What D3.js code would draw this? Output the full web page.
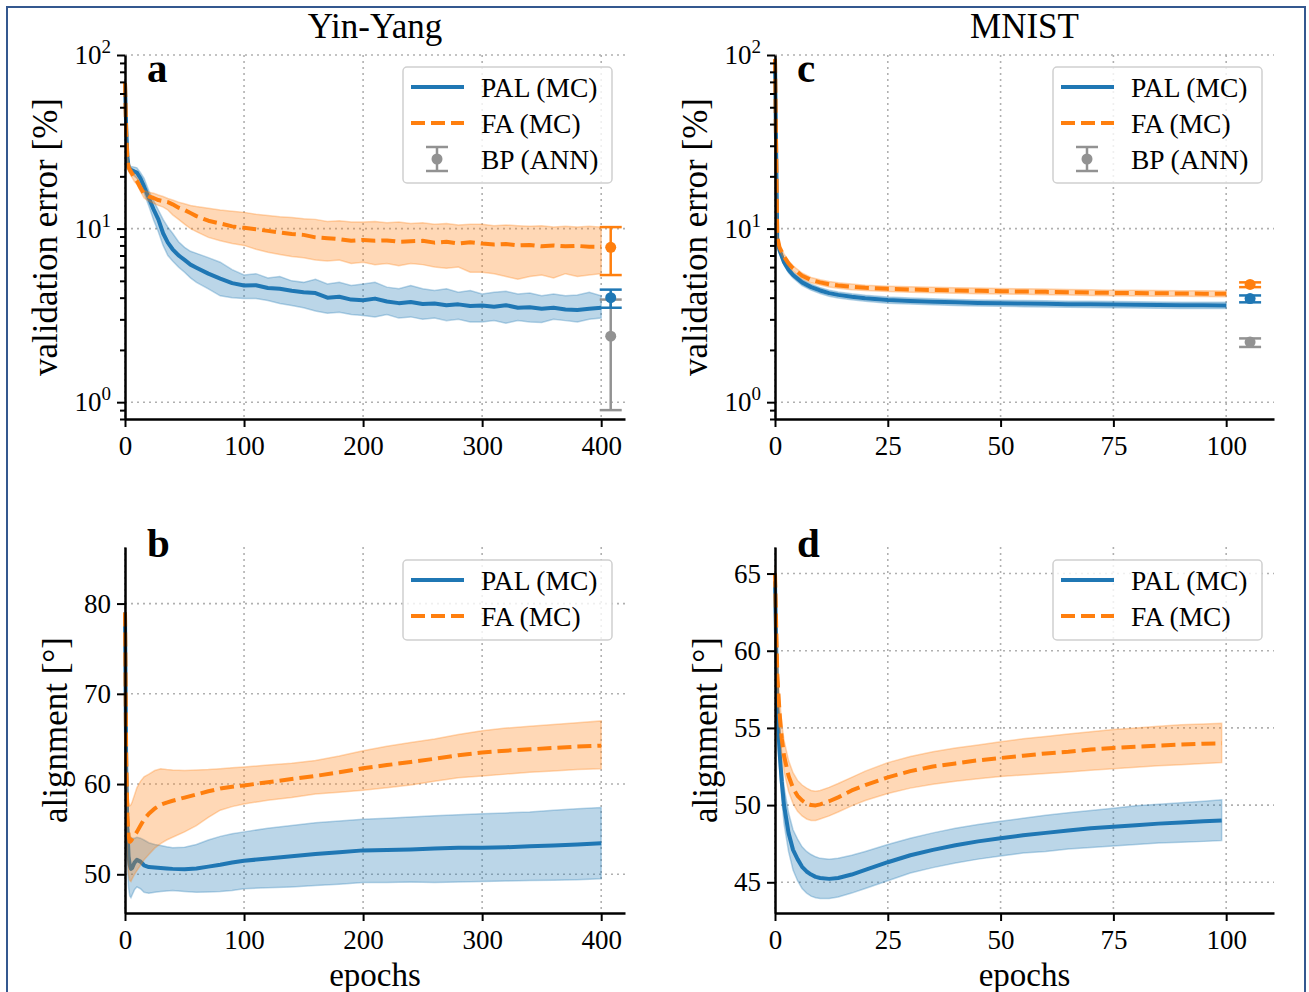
<!DOCTYPE html>
<html>
<head>
<meta charset="utf-8">
<script src="https://cdn.jsdelivr.net/npm/d3@7"></script>
<style>
  body { margin: 0; background: #fff; }
  svg text { font-family: "Liberation Serif", "DejaVu Serif", serif; fill: #000; }
  .grid { stroke: #b0b0b0; stroke-width: 1.6; stroke-dasharray: 2,4; }
</style>
</head>
<body>
<svg width="1309" height="992"></svg>
<script>
// ---- Yin-Yang, validation error [%] (panel a) ----
const epochsA = [0,1,2,3,5,8,10,13,16,20,24,28,32,36,40,45,50,55,60,70,80,90,100,110,120,130,140,150,160,170,180,190,200,210,220,230,240,250,260,270,280,290,300,310,320,330,340,350,360,370,380,390,400];
const palMeanA = [69,38,26,22.5,21.8,21.3,21.0,19.5,17.5,15.0,12.9,11.3,9.4,8.3,7.6,7.0,6.6,6.2,5.95,5.5,5.15,4.85,4.7,4.72,4.55,4.5,4.38,4.3,4.25,4.0,4.05,3.9,3.86,3.95,3.8,3.72,3.78,3.68,3.7,3.62,3.66,3.58,3.6,3.55,3.62,3.5,3.52,3.45,3.5,3.42,3.4,3.45,3.5];
const palHiA = [72,40,27.5,23.5,22.8,22.6,22.4,21,19.5,16.5,14.5,12.8,11.3,10.2,9.4,8.4,7.8,7.4,7.2,6.8,6.4,5.8,5.4,5.5,5.2,5.3,5.0,4.9,5.1,4.8,4.9,4.7,4.8,4.9,4.6,4.5,4.7,4.5,4.4,4.5,4.3,4.4,4.2,4.3,4.35,4.2,4.25,4.1,4.2,4.1,4.15,4.3,4.1];
const palLoA = [66,35,24.5,21.5,20.8,20.0,19.5,18,16,13.5,11.2,9.6,8.0,7.0,6.5,6.0,5.6,5.2,4.9,4.5,4.1,4.0,3.95,3.95,3.85,3.7,3.6,3.5,3.35,3.25,3.3,3.2,3.16,3.1,3.2,3.05,3.1,3.0,3.05,2.95,3.0,2.9,2.9,2.95,2.85,2.95,2.9,2.88,3.0,2.95,2.9,3.0,3.05];
const faMeanA = [69,36,25,22.5,21.2,19.6,18.8,17.2,15.8,15.3,15.0,14.6,14.4,14.2,13.8,13.2,12.8,12.3,11.8,11.1,10.7,10.3,10.1,9.9,9.7,9.5,9.3,9.2,8.9,8.8,8.7,8.5,8.6,8.5,8.55,8.4,8.45,8.5,8.3,8.4,8.2,8.35,8.2,8.1,8.15,8.0,8.05,7.9,8.0,7.9,7.95,7.85,7.85];
const faHiA = [72,38,26.5,23.5,22.2,20.6,19.6,18,16.6,16.2,16.0,15.6,15.3,14.9,14.6,14.2,13.9,13.6,13.4,13.1,12.8,12.6,12.4,12.1,11.9,11.7,11.6,11.4,11.3,11.0,11.1,10.9,10.9,11.0,10.8,10.9,10.7,10.8,10.6,10.7,10.5,10.6,10.6,10.4,10.5,10.4,10.3,10.4,10.2,10.3,10.2,10.3,10.2];
const faLoA = [66,34,23.5,21.5,20.2,18.6,18.0,16.4,15.0,14.4,14.0,13.6,13.3,12.8,12.0,11.3,10.6,10.0,9.6,8.9,8.5,8.2,8.0,7.6,7.3,7.1,6.9,6.8,6.6,6.5,6.6,6.3,6.4,6.2,6.3,6.1,6.3,6.2,6.0,5.9,6.0,5.6,5.6,5.5,5.3,5.1,5.3,5.4,5.2,5.5,5.3,5.4,5.5];
// final test errors (mean, lo, hi): BP, PAL, FA
const finalA = [
  { name: "BP", mean: 2.4, lo: 0.9, hi: 3.9 },
  { name: "PAL", mean: 4.0, lo: 3.5, hi: 4.45 },
  { name: "FA", mean: 7.8, lo: 5.4, hi: 10.2 }
];

// ---- Yin-Yang, alignment [deg] (panel b) ----
const epochsB = [0,1,2,3,4,5,6,8,10,13,16,20,25,30,35,40,50,60,70,80,90,100,120,140,160,180,200,220,240,260,280,300,320,340,360,380,400];
const palMeanB = [79,62,55,52,51.0,50.6,50.7,51.3,51.6,51.4,51.0,50.8,50.75,50.7,50.65,50.6,50.55,50.65,50.85,51.05,51.3,51.5,51.75,52.0,52.25,52.45,52.65,52.7,52.75,52.85,52.95,52.95,53.0,53.1,53.2,53.3,53.45];
const palHiB = [80,64,57,55,54.3,54.1,54.0,54.0,54.1,54.0,53.8,53.5,53.3,53.2,53.05,52.95,53.0,53.3,53.8,54.2,54.5,54.7,55.1,55.4,55.7,55.9,56.1,56.2,56.35,56.5,56.6,56.7,56.8,56.9,57.1,57.25,57.4];
const palLoB = [78,58,51,48.5,47.6,47.4,47.7,48.3,48.6,48.4,48.0,47.9,48.0,48.1,48.15,48.2,48.1,48.0,48.05,48.1,48.2,48.4,48.5,48.6,48.75,48.9,49.1,49.1,49.15,49.1,49.15,49.2,49.25,49.3,49.35,49.4,49.5];
const faMeanB = [79,63,56.5,54.2,53.6,53.7,53.9,54.3,54.7,55.4,56.1,56.7,57.3,57.7,57.95,58.15,58.5,58.85,59.2,59.5,59.7,59.85,60.2,60.55,60.9,61.3,61.75,62.1,62.45,62.8,63.2,63.5,63.7,63.85,64.0,64.15,64.25];
const faHiB = [80,66,60,58,57.6,57.7,58.0,58.8,59.6,60.3,60.8,61.1,61.5,61.7,61.6,61.55,61.5,61.55,61.6,61.7,61.8,61.9,62.1,62.3,62.6,63.1,63.7,64.2,64.6,65.0,65.5,65.9,66.2,66.4,66.6,66.8,67.0];
const faLoB = [78,58,52,50.0,49.3,49.2,49.5,50.0,50.4,51.0,51.6,52.2,52.9,53.4,53.8,54.1,54.7,55.4,56.3,57.1,57.5,57.8,58.2,58.5,58.9,59.1,59.3,59.6,59.9,60.3,60.7,60.9,61.1,61.3,61.45,61.6,61.7];

// ---- MNIST, validation error [%] (panel c) ----
const epochsC = [0,0.5,1,2,3,4,6,8,10,12,14,17,20,25,30,35,40,45,50,55,60,65,70,75,80,85,90,95,100];
const palMeanC = [95,8.6,7.5,6.4,5.8,5.4,4.9,4.6,4.4,4.25,4.15,4.05,3.97,3.88,3.83,3.79,3.76,3.73,3.72,3.7,3.69,3.67,3.66,3.65,3.64,3.63,3.62,3.62,3.61];
const palHiC = [97,8.9,7.8,6.65,6.03,5.6,5.1,4.78,4.57,4.42,4.31,4.21,4.13,4.04,3.98,3.94,3.91,3.88,3.87,3.85,3.84,3.82,3.81,3.8,3.79,3.78,3.77,3.77,3.76];
const palLoC = [93,8.3,7.2,6.15,5.57,5.2,4.7,4.42,4.23,4.08,3.98,3.89,3.81,3.72,3.68,3.64,3.61,3.58,3.57,3.55,3.54,3.52,3.51,3.5,3.49,3.48,3.47,3.47,3.46];
const faMeanC = [95,9.0,7.8,6.9,6.3,5.9,5.35,5.05,4.9,4.78,4.7,4.62,4.56,4.5,4.46,4.43,4.4,4.38,4.36,4.34,4.32,4.3,4.28,4.26,4.25,4.24,4.23,4.22,4.21];
const faHiC = [97,9.3,8.1,7.15,6.53,6.1,5.55,5.23,5.07,4.95,4.87,4.79,4.72,4.66,4.62,4.59,4.56,4.54,4.52,4.5,4.48,4.46,4.44,4.42,4.41,4.4,4.39,4.38,4.37];
const faLoC = [93,8.7,7.5,6.65,6.07,5.7,5.15,4.87,4.73,4.61,4.53,4.45,4.4,4.34,4.3,4.27,4.24,4.22,4.2,4.18,4.16,4.14,4.12,4.1,4.09,4.08,4.07,4.06,4.05];
const finalC = [
  { name: "BP", mean: 2.22, lo: 2.08, hi: 2.33 },
  { name: "PAL", mean: 3.95, lo: 3.76, hi: 4.12 },
  { name: "FA", mean: 4.77, lo: 4.6, hi: 4.9 }
];

// ---- MNIST, alignment [deg] (panel d) ----
const epochsD = [0,0.5,1,1.5,2,3,4,5,6,7,8,9,10,12,14,17,20,25,30,35,40,45,50,55,60,65,70,75,80,85,90,95,99];
const palMeanD = [64.5,56.5,53.5,51.5,50.0,48.2,47.1,46.5,46.0,45.7,45.5,45.35,45.28,45.22,45.28,45.5,45.8,46.3,46.75,47.1,47.4,47.65,47.85,48.05,48.2,48.35,48.5,48.6,48.7,48.8,48.88,48.95,49.0];
const palHiD = [65,57.5,54.5,52.6,51.2,49.5,48.4,47.8,47.3,47.0,46.8,46.65,46.55,46.5,46.55,46.75,47.0,47.45,47.85,48.2,48.5,48.75,48.95,49.15,49.35,49.5,49.65,49.8,49.95,50.05,50.15,50.25,50.35];
const palLoD = [64,55.5,52.5,50.4,48.8,47.0,45.8,45.1,44.6,44.3,44.1,44.0,43.95,43.95,44.05,44.3,44.6,45.1,45.6,45.95,46.25,46.5,46.7,46.9,47.0,47.15,47.25,47.35,47.45,47.55,47.6,47.65,47.7];
const faMeanD = [65,58.5,56.0,54.3,53.2,51.9,51.1,50.6,50.3,50.1,50.0,49.98,50.05,50.25,50.5,50.95,51.3,51.8,52.2,52.5,52.7,52.9,53.05,53.2,53.35,53.45,53.6,53.7,53.78,53.85,53.92,53.98,54.0];
const faHiD = [65.5,59.5,57.0,55.3,54.2,52.9,52.1,51.6,51.3,51.1,50.95,50.9,50.95,51.15,51.4,51.8,52.2,52.75,53.15,53.45,53.7,53.9,54.1,54.3,54.45,54.6,54.75,54.9,55.0,55.1,55.2,55.25,55.3];
const faLoD = [64.5,57.5,55.0,53.3,52.2,50.9,50.1,49.6,49.3,49.1,49.0,49.0,49.1,49.3,49.55,49.95,50.3,50.75,51.1,51.35,51.55,51.7,51.85,51.95,52.05,52.15,52.25,52.35,52.45,52.55,52.62,52.7,52.75];

const svg = d3.select("svg");
const COLORS = { PAL: "#1f77b4", FA: "#ff7f0e", BP: "#929292" };
const legendNames = { PAL: "PAL (MC)", FA: "FA (MC)", BP: "BP (ANN)" };

// outer frame
svg.append("rect")
    .attr("x", 7).attr("y", 7)
    .attr("width", 1298).attr("height", 1000)
    .attr("fill", "none")
    .attr("stroke", "#34588f")
    .attr("stroke-width", 2);

function styleAxis(sel) {
    sel.attr("font-size", 27);
    sel.select(".domain").attr("stroke", "#000").attr("stroke-width", 2.5);
    sel.selectAll(".tick line").attr("stroke", "#000").attr("stroke-width", 2);
}

function drawPanel(p) {
    const g = svg.append("g");
    const x = d3.scaleLinear().domain(p.xDomain).range([p.left, p.right]);
    const y = (p.log ? d3.scaleLog() : d3.scaleLinear()).domain(p.yDomain).range([p.bottom, p.top]);

    // dotted grid
    g.append("g").selectAll("line")
        .data(p.xTicks)
        .join("line")
        .attr("class", "grid")
        .attr("x1", d => x(d)).attr("x2", d => x(d))
        .attr("y1", p.top).attr("y2", p.bottom);
    g.append("g").selectAll("line")
        .data(p.yTicks)
        .join("line")
        .attr("class", "grid")
        .attr("x1", p.left).attr("x2", p.right)
        .attr("y1", d => y(d)).attr("y2", d => y(d));

    // shaded bands + mean lines
    p.series.forEach(s => {
        const pts = s.epochs.map((e, i) => ({ e: e, m: s.mean[i], lo: s.lo[i], hi: s.hi[i] }));
        g.append("path")
            .datum(pts)
            .attr("d", d3.area().x(d => x(d.e)).y0(d => y(d.lo)).y1(d => y(d.hi)))
            .attr("fill", COLORS[s.name])
            .attr("fill-opacity", 0.3)
            .attr("stroke", COLORS[s.name])
            .attr("stroke-opacity", 0.3)
            .attr("stroke-width", 1.5);
        g.append("path")
            .datum(pts)
            .attr("d", d3.line().x(d => x(d.e)).y(d => y(d.m)))
            .attr("fill", "none")
            .attr("stroke", COLORS[s.name])
            .attr("stroke-width", 4)
            .attr("stroke-linejoin", "round")
            .attr("stroke-dasharray", s.name === "FA" ? "14,6" : null);
    });

    // final error bars
    if (p.final) {
        const cx = x(p.finalEpoch);
        p.final.forEach(f => {
            const c = COLORS[f.name];
            g.append("line")
                .attr("x1", cx).attr("x2", cx)
                .attr("y1", y(f.lo)).attr("y2", y(f.hi))
                .attr("stroke", c).attr("stroke-width", 2.5);
            g.selectAll(null)
                .data([f.lo, f.hi])
                .join("line")
                .attr("x1", cx - 11).attr("x2", cx + 11)
                .attr("y1", d => y(d)).attr("y2", d => y(d))
                .attr("stroke", c).attr("stroke-width", 2.5);
            g.append("circle")
                .attr("cx", cx).attr("cy", y(f.mean))
                .attr("r", 5.5)
                .attr("fill", c);
        });
    }

    // axes
    g.append("g")
        .attr("transform", `translate(0,${p.bottom})`)
        .call(d3.axisBottom(x).tickValues(p.xTicks).tickSize(8).tickPadding(9).tickSizeOuter(0))
        .call(styleAxis);

    if (p.log) {
        g.append("g")
            .attr("transform", `translate(${p.left},0)`)
            .call(d3.axisLeft(y).tickValues(p.yMinor).tickSize(5).tickFormat("").tickSizeOuter(0))
            .call(styleAxis)
            .call(a => a.select(".domain").remove());
        g.append("g")
            .attr("transform", `translate(${p.left},0)`)
            .call(d3.axisLeft(y).tickValues(p.yTicks).tickSize(8).tickFormat("").tickSizeOuter(0))
            .call(styleAxis);
        // 10^k labels
        g.append("g").selectAll("text")
            .data(p.yTicks)
            .join("text")
            .attr("x", p.left - 14)
            .attr("y", d => y(d) + 9)
            .attr("text-anchor", "end")
            .attr("font-size", 27)
            .each(function (d) {
                const t = d3.select(this);
                t.append("tspan").text("10");
                t.append("tspan").attr("font-size", 19).attr("dy", -11).text(Math.round(Math.log10(d)));
            });
    } else {
        g.append("g")
            .attr("transform", `translate(${p.left},0)`)
            .call(d3.axisLeft(y).tickValues(p.yTicks).tickSize(8).tickPadding(6).tickSizeOuter(0))
            .call(styleAxis);
    }

    // labels
    g.append("text")
        .attr("transform", `translate(${p.ylabelX},${(p.top + p.bottom) / 2}) rotate(-90)`)
        .attr("text-anchor", "middle")
        .attr("font-size", 35)
        .text(p.ylabel);
    if (p.title) {
        g.append("text")
            .attr("x", (p.left + p.right) / 2).attr("y", 38)
            .attr("text-anchor", "middle")
            .attr("font-size", 35)
            .text(p.title);
    }
    if (p.xlabel) {
        g.append("text")
            .attr("x", (p.left + p.right) / 2).attr("y", 986)
            .attr("text-anchor", "middle")
            .attr("font-size", 33)
            .text(p.xlabel);
    }
    g.append("text")
        .attr("x", p.left + 22).attr("y", p.letterY)
        .attr("font-size", 41)
        .attr("font-weight", "bold")
        .text(p.letter);

    // legend
    const names = p.final ? ["PAL", "FA", "BP"] : ["PAL", "FA"];
    const lg = g.append("g").attr("transform", `translate(${p.left + 278},${p.legendY})`);
    lg.append("rect")
        .attr("width", 209).attr("height", names.length * 36 + 8)
        .attr("rx", 4)
        .attr("fill", "#fff").attr("fill-opacity", 0.8)
        .attr("stroke", "#d0d0d0").attr("stroke-width", 1.5);
    names.forEach((n, i) => {
        const cy = 20 + i * 36;
        if (n === "BP") {
            lg.append("line").attr("x1", 34).attr("x2", 34).attr("y1", cy - 12).attr("y2", cy + 12)
                .attr("stroke", COLORS.BP).attr("stroke-width", 2.5);
            lg.selectAll(null).data([cy - 12, cy + 12]).join("line")
                .attr("x1", 23).attr("x2", 45).attr("y1", d => d).attr("y2", d => d)
                .attr("stroke", COLORS.BP).attr("stroke-width", 2.5);
            lg.append("circle").attr("cx", 34).attr("cy", cy).attr("r", 5.5).attr("fill", COLORS.BP);
        } else {
            lg.append("line").attr("x1", 8).attr("x2", 61).attr("y1", cy).attr("y2", cy)
                .attr("stroke", COLORS[n]).attr("stroke-width", 4)
                .attr("stroke-dasharray", n === "FA" ? "14,6" : null);
        }
        lg.append("text").attr("x", 78).attr("y", cy + 10).attr("font-size", 27.5).text(legendNames[n]);
    });
}

const logMinor = [0.8, 0.9, 2, 3, 4, 5, 6, 7, 8, 9, 20, 30, 40, 50, 60, 70, 80, 90];

drawPanel({
    left: 125, right: 625, top: 55, bottom: 419,
    xDomain: [0, 420], xTicks: [0, 100, 200, 300, 400],
    log: true, yDomain: [0.8, 100], yTicks: [1, 10, 100], yMinor: logMinor,
    series: [
        { name: "PAL", epochs: epochsA, mean: palMeanA, lo: palLoA, hi: palHiA },
        { name: "FA", epochs: epochsA, mean: faMeanA, lo: faLoA, hi: faHiA }
    ],
    final: finalA, finalEpoch: 408,
    ylabel: "validation error [%]", ylabelX: 57, title: "Yin-Yang",
    letter: "a", letterY: 82, legendY: 67
});

drawPanel({
    left: 125, right: 625, top: 547, bottom: 913,
    xDomain: [0, 420], xTicks: [0, 100, 200, 300, 400],
    log: false, yDomain: [45.71, 86.27], yTicks: [50, 60, 70, 80],
    series: [
        { name: "PAL", epochs: epochsB, mean: palMeanB, lo: palLoB, hi: palHiB },
        { name: "FA", epochs: epochsB, mean: faMeanB, lo: faLoB, hi: faHiB }
    ],
    ylabel: "alignment [°]", ylabelX: 67, xlabel: "epochs",
    letter: "b", letterY: 557, legendY: 560
});

drawPanel({
    left: 775, right: 1274, top: 55, bottom: 419,
    xDomain: [0, 110.6], xTicks: [0, 25, 50, 75, 100],
    log: true, yDomain: [0.8, 100], yTicks: [1, 10, 100], yMinor: logMinor,
    series: [
        { name: "PAL", epochs: epochsC, mean: palMeanC, lo: palLoC, hi: palHiC },
        { name: "FA", epochs: epochsC, mean: faMeanC, lo: faLoC, hi: faHiC }
    ],
    final: finalC, finalEpoch: 105.3,
    ylabel: "validation error [%]", ylabelX: 707, title: "MNIST",
    letter: "c", letterY: 82, legendY: 67
});

drawPanel({
    left: 775, right: 1274, top: 547, bottom: 913,
    xDomain: [0, 110.6], xTicks: [0, 25, 50, 75, 100],
    log: false, yDomain: [43.01, 66.72], yTicks: [45, 50, 55, 60, 65],
    series: [
        { name: "PAL", epochs: epochsD, mean: palMeanD, lo: palLoD, hi: palHiD },
        { name: "FA", epochs: epochsD, mean: faMeanD, lo: faLoD, hi: faHiD }
    ],
    ylabel: "alignment [°]", ylabelX: 717, xlabel: "epochs",
    letter: "d", letterY: 557, legendY: 560
});
</script>
</body>
</html>
